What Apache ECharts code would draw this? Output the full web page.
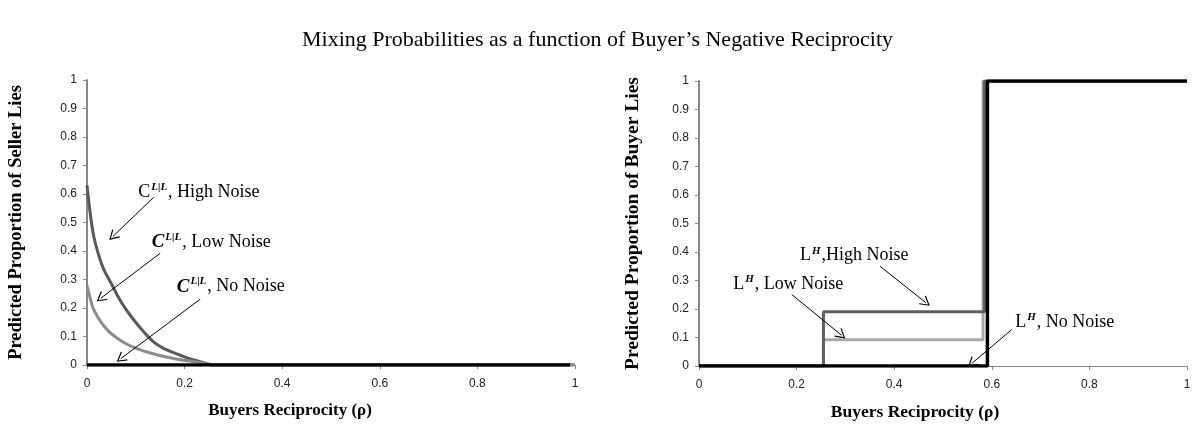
<!DOCTYPE html>
<html>
<head>
<meta charset="utf-8">
<script src="https://cdn.jsdelivr.net/npm/echarts@6/dist/echarts.min.js"></script>
<style>
  html, body { margin: 0; padding: 0; background: #ffffff; }
  #chart { width: 1195px; height: 426px; }
</style>
</head>
<body>
<div id="chart"></div>
<script>
// Left panel: predicted proportion of seller lies vs buyers' reciprocity
const sellerRhoHigh = [0, 0.0075, 0.014, 0.025, 0.035, 0.05, 0.062, 0.076, 0.096, 0.117, 0.137, 0.155, 0.175, 0.19, 0.21, 0.232, 0.25, 0.255, 1];
const sellerHighNoise = [0.63, 0.52, 0.45, 0.38, 0.333, 0.285, 0.245, 0.205, 0.158, 0.115, 0.08, 0.06, 0.045, 0.035, 0.022, 0.012, 0.003, 0, 0];
const sellerRhoLow = [0, 0.0075, 0.014, 0.028, 0.045, 0.062, 0.083, 0.105, 0.13, 0.155, 0.18, 0.205, 0.23, 0.25, 0.255, 1];
const sellerLowNoise = [0.28, 0.228, 0.193, 0.152, 0.117, 0.094, 0.072, 0.056, 0.042, 0.031, 0.022, 0.015, 0.009, 0.003, 0, 0];
const sellerRhoNone = [0, 0.99];
const sellerNoNoise = [0, 0];

// Right panel: predicted proportion of buyer lies (step functions)
const buyerRhoHigh = [0, 0.255, 0.255, 0.585, 0.585, 1];
const buyerHighNoise = [0, 0, 0.19, 0.19, 1, 1];
const buyerRhoLow = [0, 0.255, 0.255, 0.582, 0.582, 1];
const buyerLowNoise = [0, 0, 0.092, 0.092, 1, 1];
const buyerRhoNone = [0, 0.591, 0.591, 1];
const buyerNoNoise = [0, 0, 1, 1];

// Axis ticks
const xTickStep = 0.2;
const yTickStep = 0.1;

const pairs = (xs, ys) => xs.map((x, i) => [x, ys[i]]);

const SERIF = "'Liberation Serif', 'DejaVu Serif', serif";
const TICKFONT = "'Liberation Sans Narrow', 'Liberation Sans', 'Open Sans', sans-serif";
const AXIS_GRAY = '#868686';

// open chevron arrow head, tip pointing up before rotation
const ARROW = 'path://M0,0L6,10L4.9,10.7L0,2.4L-4.9,10.7L-6,10Z';

const annoRich = {
  cr: { fontFamily: SERIF, fontSize: 18, color: '#000', lineHeight: 21, verticalAlign: 'middle' },
  cb: { fontFamily: SERIF, fontSize: 19, fontWeight: 'bold', fontStyle: 'italic', color: '#000', lineHeight: 21, verticalAlign: 'middle' },
  sup: { fontFamily: SERIF, fontSize: 11, fontWeight: 'bold', fontStyle: 'italic', color: '#000', lineHeight: 12, verticalAlign: 'top', padding: [0, 1, 0, 1] },
  t: { fontFamily: SERIF, fontSize: 18, color: '#000', lineHeight: 21, verticalAlign: 'middle' }
};

function note(coord, text) {
  return {
    coord: coord,
    symbol: 'circle',
    symbolSize: 0,
    label: { show: true, position: 'right', distance: 0, formatter: text, rich: annoRich }
  };
}

function arrow(from, to) {
  return [{ coord: from }, { coord: to }];
}

function markLineOf(arrows) {
  return {
    silent: true,
    animation: false,
    symbol: ['none', ARROW],
    symbolSize: [11, 10],
    label: { show: false },
    lineStyle: { color: '#000', width: 1, type: 'solid' },
    emphasis: { disabled: true },
    data: arrows
  };
}

function markPointOf(notes) {
  return {
    silent: true,
    animation: false,
    emphasis: { disabled: true },
    data: notes
  };
}

function xAxisFor(gridIndex, name, namePadding, nameSize) {
  return {
    type: 'value', gridIndex: gridIndex, min: 0, max: 1, interval: xTickStep,
    axisLine: { show: true, onZero: false, lineStyle: { color: AXIS_GRAY, width: 1 } },
    axisTick: { show: true, length: 4, lineStyle: { color: AXIS_GRAY } },
    splitLine: { show: false },
    axisLabel: { fontFamily: TICKFONT, fontSize: 12, color: '#222', margin: 13 },
    name: name, nameLocation: 'middle', nameGap: 37,
    nameTextStyle: { fontFamily: SERIF, fontSize: nameSize, fontWeight: 'bold', color: '#000', padding: namePadding }
  };
}

function yAxisFor(gridIndex, name, gap, nameSize) {
  return {
    type: 'value', gridIndex: gridIndex, min: 0, max: 1, interval: yTickStep,
    axisLine: { show: true, lineStyle: { color: AXIS_GRAY, width: 2 } },
    axisTick: { show: true, length: 4, lineStyle: { color: AXIS_GRAY } },
    splitLine: { show: false },
    axisLabel: { fontFamily: TICKFONT, fontSize: 12, color: '#222', margin: 10 },
    name: name, nameLocation: 'middle', nameGap: gap,
    nameTextStyle: { fontFamily: SERIF, fontSize: nameSize, fontWeight: 'bold', color: '#000' }
  };
}

function lineSeries(xi, data, color, width, extra) {
  return Object.assign({
    type: 'line', xAxisIndex: xi, yAxisIndex: xi, data: data,
    showSymbol: false, symbol: 'none', animation: false, silent: true,
    lineStyle: { color: color, width: width },
    itemStyle: { color: color },
    emphasis: { disabled: true }
  }, extra || {});
}

const option = {
  backgroundColor: '#ffffff',
  title: {
    text: 'Mixing Probabilities as a function of Buyer\u2019s Negative Reciprocity',
    left: 'center', top: 24,
    textStyle: { fontFamily: SERIF, fontSize: 22, fontWeight: 'normal', color: '#000' }
  },
  grid: [
    { left: 87, top: 80, width: 488, height: 285 },
    { left: 699, top: 81, width: 488, height: 286 }
  ],
  xAxis: [
    xAxisFor(0, 'Buyers Reciprocity (\u03c1)', [0, 82, 0, 0], 17),
    xAxisFor(1, 'Buyers Reciprocity (\u03c1)', [0, 56, 0, 0], 17.5)
  ],
  yAxis: [
    yAxisFor(0, 'Predicted Proportion of Seller Lies', 61, 18.5),
    yAxisFor(1, 'Predicted Proportion of Buyer Lies', 56, 19.5)
  ],
  series: [
    lineSeries(0, pairs(sellerRhoHigh, sellerHighNoise), '#595959', 3, { smooth: 0.3 }),
    lineSeries(0, pairs(sellerRhoLow, sellerLowNoise), '#8c8c8c', 3, { smooth: 0.3 }),
    lineSeries(0, pairs(sellerRhoNone, sellerNoNoise), '#000000', 3.5, {
      markLine: markLineOf([
        arrow([0.137, 0.589], [0.053, 0.451]),
        arrow([0.150, 0.392], [0.028, 0.234]),
        arrow([0.232, 0.231], [0.069, 0.022])
      ]),
      markPoint: markPointOf([
        note([0.105, 0.607], '{cr|C}{sup|L|L}{t|, High Noise}'),
        note([0.1325, 0.43], '{cb|C}{sup|L|L}{t|, Low Noise}'),
        note([0.184, 0.275], '{cb|C}{sup|L|L}{t|, No Noise}')
      ])
    }),
    lineSeries(1, pairs(buyerRhoLow, buyerLowNoise), '#a9a9a9', 3),
    lineSeries(1, pairs(buyerRhoHigh, buyerHighNoise), '#5f5f5f', 3),
    lineSeries(1, pairs(buyerRhoNone, buyerNoNoise), '#000000', 3.5, {
      markLine: markLineOf([
        arrow([0.371, 0.350], [0.465, 0.222]),
        arrow([0.190, 0.251], [0.292, 0.108]),
        arrow([0.641, 0.128], [0.559, 0.009])
      ]),
      markPoint: markPointOf([
        note([0.207, 0.387], '{cr|L}{sup|H}{t|,High Noise}'),
        note([0.070, 0.286], '{cr|L}{sup|H}{t|, Low Noise}'),
        note([0.648, 0.155], '{cr|L}{sup|H}{t|, No Noise}')
      ])
    })
  ]
};

const chart = echarts.init(document.getElementById('chart'), null, { renderer: 'canvas' });
chart.setOption(option);
</script>
</body>
</html>
